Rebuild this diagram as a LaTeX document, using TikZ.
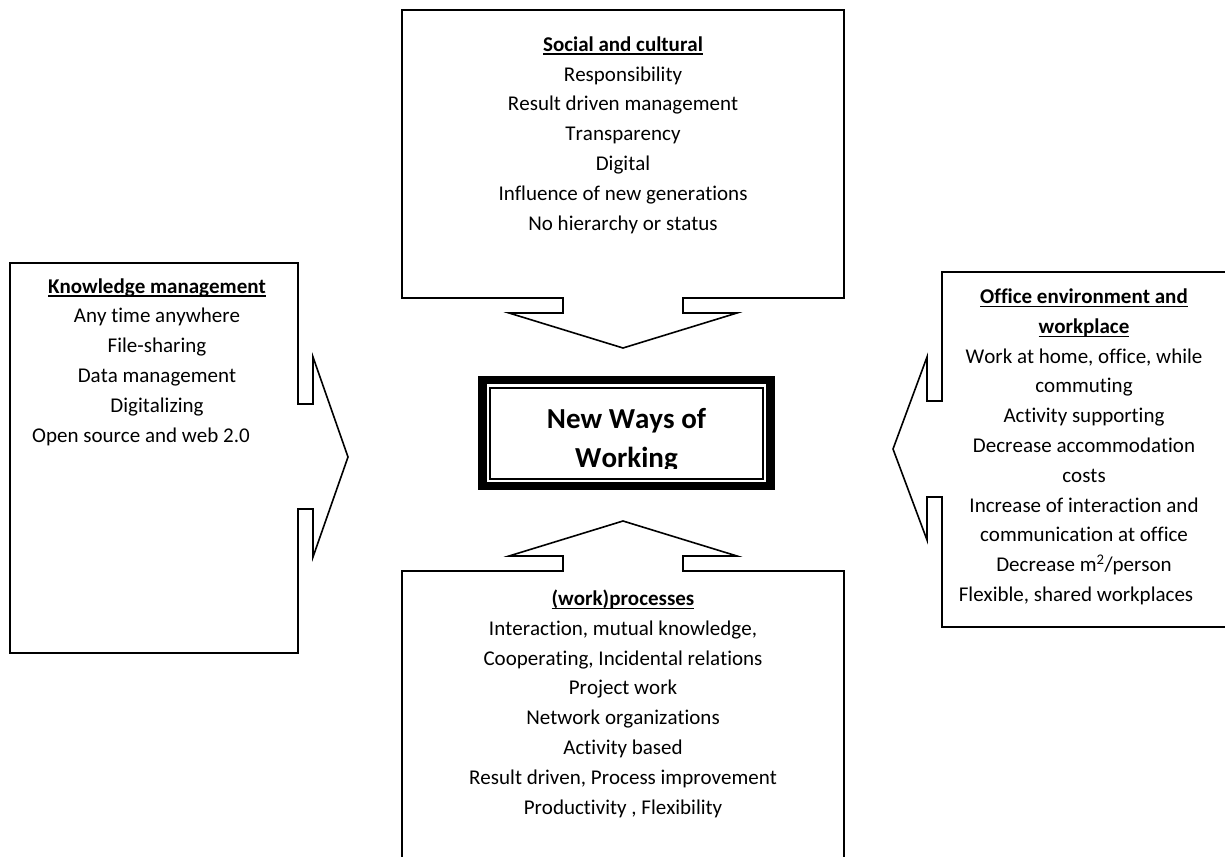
\documentclass[tikz,border=0pt]{standalone}
\usepackage{fontspec}
\setmainfont{Carlito}[Kerning=Off,Ligatures=NoCommon]
\newcommand\myul[1]{\setbox0\hbox{#1}\rlap{\rule[-3.6pt]{\wd0}{1.4pt}}\box0}
\begin{document}
\begin{tikzpicture}[x=1pt,y=-1pt,
  callout/.style={draw=black, line width=1.6pt, fill=white, line join=miter},
  body/.style={align=center, inner sep=0pt, anchor=base, font=\fontsize{21}{29.8}\selectfont}
]
\useasboundingbox (0,0) rectangle (1225,856);
\fill[white] (0,0) rectangle (1225,856);
\clip (0,0) rectangle (1225,856);

% top callout (down arrow)
\draw[callout] (402,10) -- (844,10) -- (844,298) -- (683,298) -- (683,313) -- (737,313)
  -- (623,348) -- (509,313) -- (563,313) -- (563,298) -- (402,298) -- cycle;
% bottom callout (up arrow)
\draw[callout] (402,900) -- (402,571) -- (563,571) -- (563,556) -- (509,556) -- (623,521)
  -- (737,556) -- (683,556) -- (683,571) -- (844,571) -- (844,900);
% left callout (right arrow)
\draw[callout] (10,263) -- (298,263) -- (298,404) -- (313,404) -- (313,357) -- (348,457)
  -- (313,557) -- (313,509) -- (298,509) -- (298,653) -- (10,653) -- cycle;
% right callout (left arrow)
\draw[callout] (1260,272) -- (942,272) -- (942,401) -- (927,401) -- (927,357) -- (893,449)
  -- (927,540) -- (927,497) -- (942,497) -- (942,627) -- (1260,627);

% center box
\draw[line width=8.5pt] (482.5,380) rectangle (770.5,486);
\draw[line width=2pt] (489.5,387.5) rectangle (763,478.5);
\begin{scope}
\clip (490,388) rectangle (763,468);
\node[align=center, inner sep=0pt, anchor=base, font=\fontsize{29}{39}\selectfont\bfseries] (nww) at (626.5,467) {New Ways of\\Working};
\end{scope}

\node[body] (social) at (623,230) {\myul{\textbf{Social and cultural}}\\Responsibility\\Result driven management\\Transparency\\Digital\\Influence of new generations\\No hierarchy or status};

\node[body] (knowledge) at (157,442) {\myul{\textbf{Knowledge management}}\\Any time anywhere\\File-sharing\\Data management\\Digitalizing\\Open source and web 2.0\hspace*{32pt}};

\node[body] (office) at (1084,601.5) {\myul{\textbf{Office environment and}}\\\myul{\textbf{workplace}}\\Work at home, office, while\\commuting\\Activity supporting\\Decrease accommodation\\costs\\Increase of interaction and\\communication at office\\Decrease m\textsuperscript{2}/person\\Flexible, shared workplaces\hspace*{16pt}};

\node[body] (work) at (623,814) {\myul{\textbf{(work)processes}}\\Interaction, mutual knowledge,\\Cooperating, Incidental relations\\Project work\\Network organizations\\Activity based\\Result driven, Process improvement\\Productivity , Flexibility};
\end{tikzpicture}
\end{document}
